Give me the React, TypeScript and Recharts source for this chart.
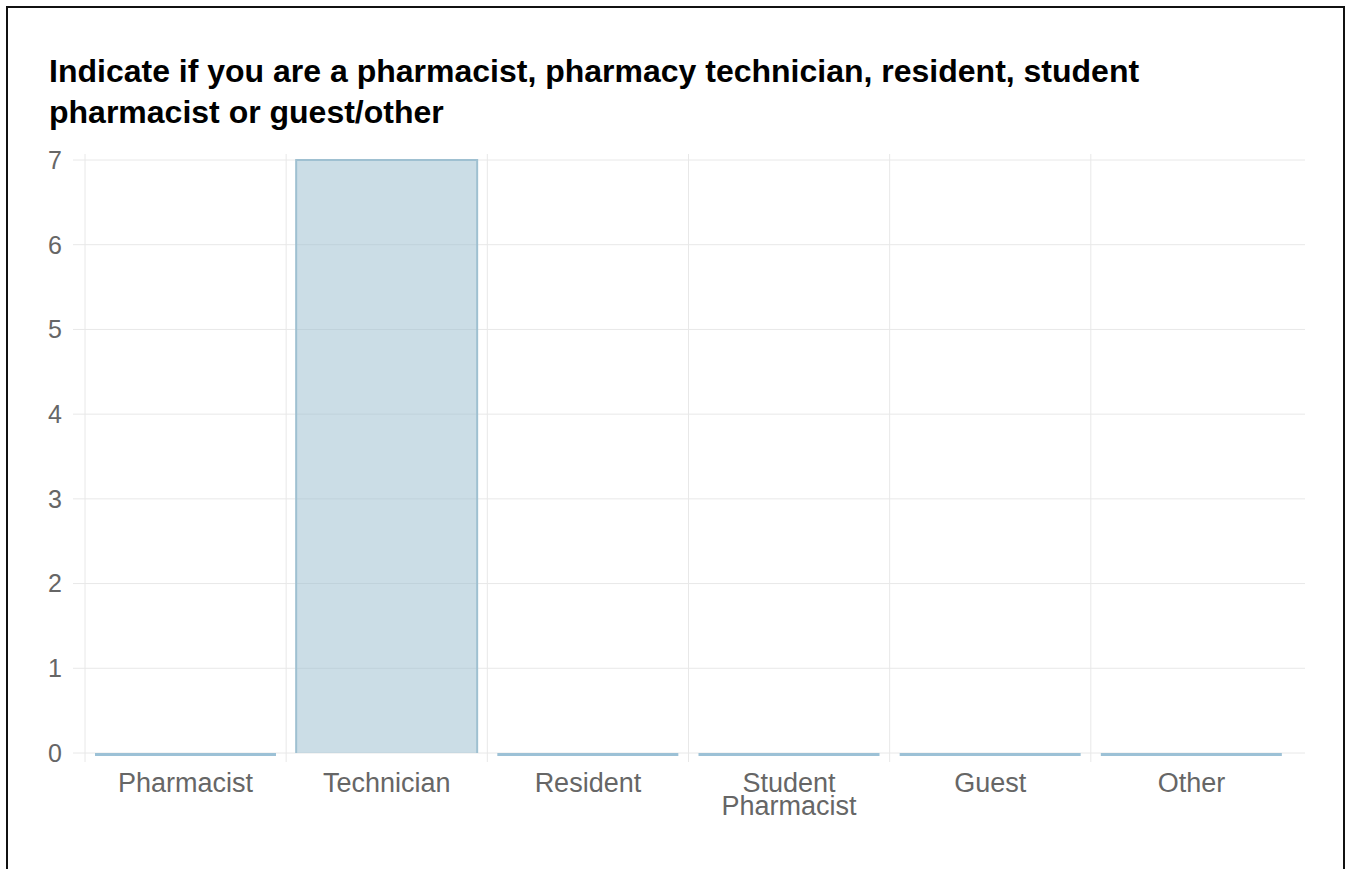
import { BarChart, Bar, XAxis, YAxis, CartesianGrid } from 'recharts';

const categories = ['Pharmacist', 'Technician', 'Resident', 'Student Pharmacist', 'Guest', 'Other'];
const counts = [0, 7, 0, 0, 0, 0];
const yTicks = [0, 1, 2, 3, 4, 5, 6, 7];

const data = categories.map((name, i) => ({ name, count: counts[i] }));

const GRID = '#e8e8e8';
const BAR_FILL = 'rgba(151,187,205,0.5)';
const BAR_STROKE = '#9fc0d1';
const PAD_RIGHT = 13;
const FONT = '"Liberation Sans", Arial, sans-serif';

function BarShape(props: any) {
  const { x, y, width, height } = props;
  // zero values still show as a flat line on the baseline
  if (!height) {
    return <line x1={x} x2={x + width} y1={y + 1.5} y2={y + 1.5} stroke="#9cc1d6" strokeWidth={3} />;
  }
  return (
    <g>
      <rect x={x} y={y} width={width} height={height} fill={BAR_FILL} />
      <path
        d={`M${x},${y + height} V${y} H${x + width} V${y + height}`}
        fill="none"
        stroke={BAR_STROKE}
        strokeWidth={2}
      />
    </g>
  );
}

function CategoryTick({ x, y, payload }: any) {
  const lines = String(payload.value).split(' ');
  return (
    <text x={x} y={y} textAnchor="middle" fill="#666" fontSize={27} fontFamily={FONT}>
      {lines.map((line, i) => (
        <tspan key={i} x={x} dy={i === 0 ? 39 : 23}>
          {line}
        </tspan>
      ))}
    </text>
  );
}

export default function App() {
  return (
    <div
      style={{
        position: 'absolute',
        left: 0,
        top: 0,
        width: 1346,
        height: 869,
        overflow: 'hidden',
        background: '#fff',
        fontFamily: FONT,
      }}
    >
      {/* frame */}
      <div
        style={{
          position: 'absolute',
          left: 6,
          top: 6,
          width: 1335,
          height: 900,
          border: '2px solid #111',
        }}
      />

      {/* title */}
      <div
        style={{
          position: 'absolute',
          left: 49,
          top: 51,
          fontSize: 32,
          fontWeight: 'bold',
          lineHeight: '41px',
          color: '#000',
          whiteSpace: 'nowrap',
        }}
      >
        Indicate if you are a pharmacist, pharmacy technician, resident, student
        <br />
        pharmacist or guest/other
      </div>

      <div style={{ position: 'absolute', left: 0, top: 0 }}>
        <BarChart
          width={1346}
          height={869}
          data={data}
          margin={{ top: 160, right: 41, bottom: 56, left: 25 }}
          barCategoryGap={10}
        >
          <CartesianGrid
            stroke={GRID}
            verticalCoordinatesGenerator={({ offset }: any) =>
              categories.map((_, i) => offset.left + (i * (offset.width - PAD_RIGHT)) / categories.length)
            }
            vertical={(p: any) => (
              <line key={`v-${p.index}`} x1={p.x1} x2={p.x2} y1={p.y1 - 6} y2={p.y2 + 9} stroke={GRID} />
            )}
          />
          <XAxis
            dataKey="name"
            height={60}
            padding={{ left: 0, right: PAD_RIGHT }}
            axisLine={false}
            tickLine={false}
            tickSize={0}
            tickMargin={0}
            interval={0}
            tick={<CategoryTick />}
          />
          <YAxis
            width={60}
            domain={[0, 7]}
            ticks={yTicks}
            interval={0}
            axisLine={false}
            tickLine={{ stroke: GRID }}
            tickSize={12}
            tickMargin={11}
            tick={{ fill: '#666', fontSize: 25, fontFamily: FONT }}
          />
          <Bar dataKey="count" shape={<BarShape />} isAnimationActive={false} />
        </BarChart>
      </div>
    </div>
  );
}
